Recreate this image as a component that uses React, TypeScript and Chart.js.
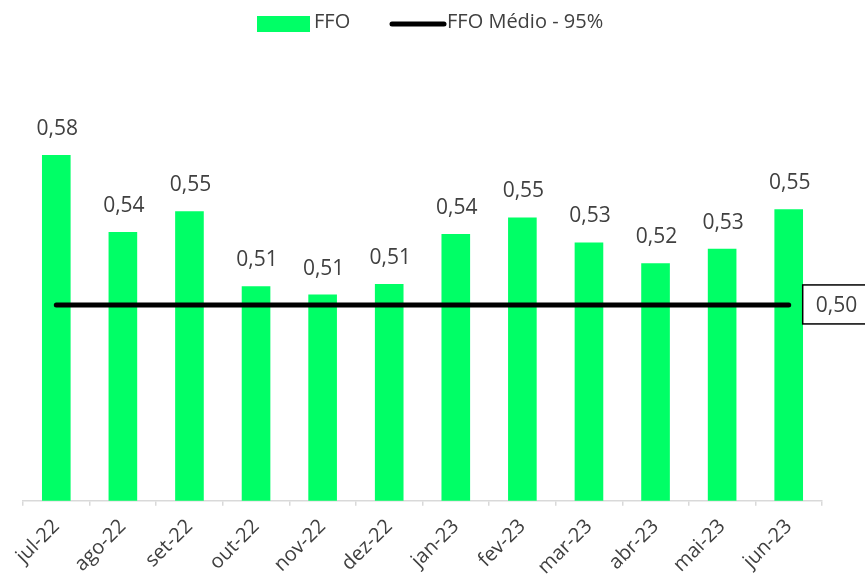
import React, { useEffect, useRef } from "react";
import { Chart, registerables } from "chart.js";

Chart.register(...registerables);

const categories = ["jul-22", "ago-22", "set-22", "out-22", "nov-22", "dez-22", "jan-23", "fev-23", "mar-23", "abr-23", "mai-23", "jun-23"];
const ffoValues = [0.576, 0.539, 0.549, 0.513, 0.509, 0.514, 0.538, 0.546, 0.534, 0.524, 0.531, 0.55];
const ffoMedio = 0.504;
const ffoMedioValues = categories.map(() => ffoMedio);
const legendLabels = ["FFO", "FFO Médio - 95%"];

const FONT = "'Open Sans', 'DejaVu Sans', sans-serif";
const TEXT = "#404040";
const GREEN = "#00FF66";

const fmt = (v: number) => v.toFixed(2).replace(".", ",");

const labelsPlugin = {
  id: "customLabels",
  afterDatasetsDraw(chart: any) {
    const ctx = chart.ctx;
    ctx.save();
    // bar value labels
    const barMeta = chart.getDatasetMeta(0);
    ctx.font = `21px ${FONT}`;
    ctx.fillStyle = TEXT;
    ctx.textAlign = "center";
    ctx.textBaseline = "alphabetic";
    barMeta.data.forEach((bar: any, i: number) => {
      ctx.fillText(fmt(ffoValues[i]), bar.x + 1, bar.y - 20);
    });
    // line end label box
    const lineMeta = chart.getDatasetMeta(1);
    const last = lineMeta.data[lineMeta.data.length - 1];
    const bx = last.x + 14;
    const by = last.y - 20;
    ctx.fillStyle = "#ffffff";
    ctx.fillRect(bx, by, 80, 39);
    ctx.strokeStyle = "#000000";
    ctx.lineWidth = 1.5;
    ctx.strokeRect(bx, by, 80, 39);
    ctx.fillStyle = TEXT;
    ctx.textAlign = "left";
    ctx.textBaseline = "middle";
    ctx.fillText(fmt(ffoMedio), bx + 13, last.y + 1);
    ctx.restore();
  },
  afterDraw(chart: any) {
    const ctx = chart.ctx;
    ctx.save();
    // legend
    ctx.fillStyle = GREEN;
    ctx.fillRect(257, 16, 53, 16);
    ctx.font = `20px ${FONT}`;
    ctx.fillStyle = TEXT;
    ctx.textAlign = "left";
    ctx.textBaseline = "middle";
    ctx.fillText(legendLabels[0], 314, 22);
    ctx.strokeStyle = "#000000";
    ctx.lineWidth = 5;
    ctx.lineCap = "round";
    ctx.beginPath();
    ctx.moveTo(392, 24);
    ctx.lineTo(444, 24);
    ctx.stroke();
    ctx.fillText(legendLabels[1], 447, 22);
    ctx.restore();
  },
};

export default function App() {
  const ref = useRef<HTMLCanvasElement>(null);
  useEffect(() => {
    if (!ref.current) return;
    const chart = new Chart(ref.current, {
      type: "bar",
      data: {
        labels: categories,
        datasets: [
          {
            type: "bar",
            label: legendLabels[0],
            data: ffoValues,
            backgroundColor: GREEN,
            borderWidth: 0,
            categoryPercentage: 1,
            barPercentage: 0.43,
            order: 1,
          },
          {
            type: "line",
            label: legendLabels[1],
            data: ffoMedioValues,
            borderColor: "#000000",
            borderWidth: 5,
            borderCapStyle: "round",
            pointRadius: 0,
            fill: false,
            order: 0,
          } as any,
        ],
      },
      options: {
        animation: false,
        responsive: true,
        maintainAspectRatio: false,
        layout: { padding: { top: 105, left: 23, right: 43, bottom: 0 } },
        plugins: { legend: { display: false }, tooltip: { enabled: false } },
        scales: {
          x: {
            offset: true,
            grid: { display: true, drawOnChartArea: false, drawTicks: true, tickLength: 5, color: "#d9d9d9", lineWidth: 1.5 },
            border: { display: true, color: "#d9d9d9", width: 1.5 },
            ticks: {
              maxRotation: 45,
              minRotation: 45,
              autoSkip: false,
              padding: 9,
              color: TEXT,
              font: { family: FONT, size: 20 },
            },
            afterFit: (scale: any) => {
              scale.height = 75.3;
            },
          },
          y: {
            display: false,
            min: 0.41,
            max: 0.6,
          },
        },
      },
      plugins: [labelsPlugin],
    });
    return () => chart.destroy();
  }, []);
  return (
    <div style={{ position: "absolute", left: 0, top: 0, width: 865, height: 576, background: "#fff" }}>
      <canvas ref={ref} />
    </div>
  );
}
